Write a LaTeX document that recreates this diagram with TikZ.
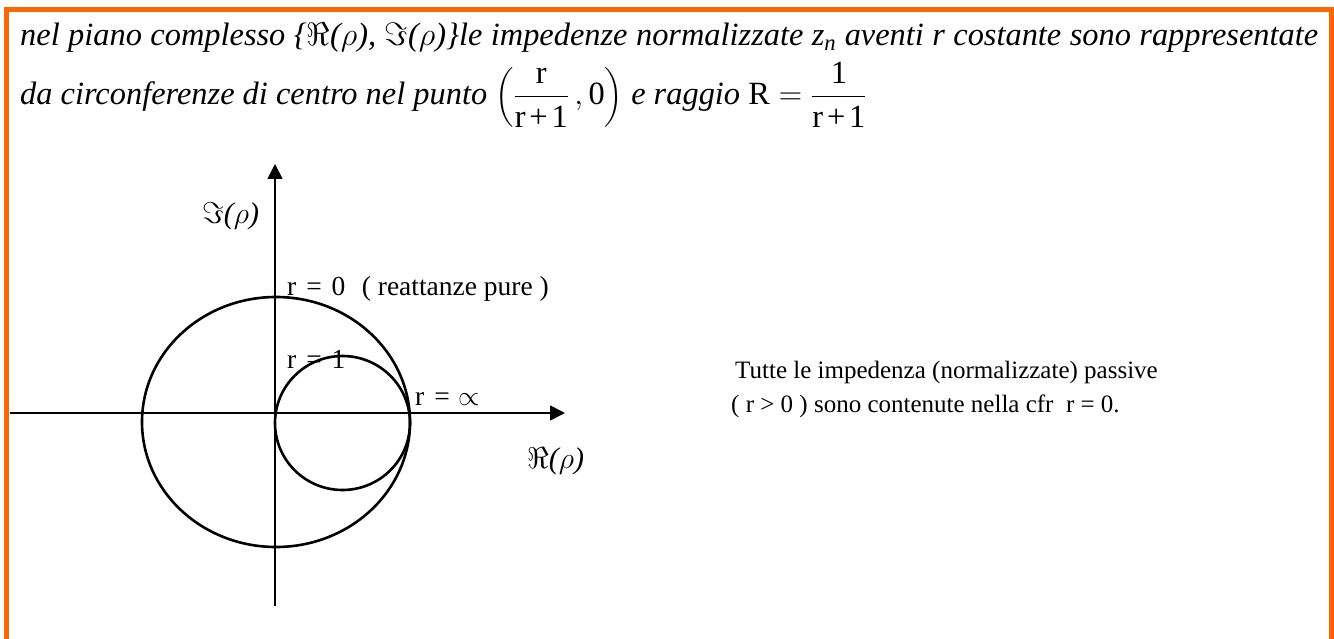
\RequirePackage{fix-cm}
\documentclass[tikz,border=0pt]{standalone}
\usepackage{amsmath}
\usepackage{fontspec}
\setmainfont{Liberation Serif}
\usetikzlibrary{arrows.meta,positioning}
\definecolor{frameorange}{RGB}{255,102,0}

\begin{document}
\begin{tikzpicture}[
    x=1pt, y=-1pt,
    txt/.style={inner sep=0pt, anchor=base west},
    titolo/.style={font=\fontsize{32.4}{38}\selectfont\itshape},
    asse/.style={font=\fontsize{30}{34}\selectfont\itshape},
    etich/.style={font=\fontsize{27.5}{32}\selectfont},
    nota/.style={font=\fontsize{25}{30}\selectfont},
    axis/.style={-{Triangle[length=15pt,width=15pt]}, line width=1.8pt},
    curve/.style={line width=2.6pt}
]
    \useasboundingbox (0,0) rectangle (1334,639);
    \draw[frameorange, line width=5pt] (6,650) -- (6,9.5) -- (1331.5,9.5) -- (1331.5,650);

    % testo in alto
    \node[txt, titolo] (riga1) at (20,46) {\makebox[1298pt][s]{nel piano complesso \{\(\Re\)(\(\rho\)), \(\Im\)(\(\rho\))\}le impedenze normalizzate z\textsubscript{n} aventi r costante sono rappresentate}};
    \node[txt, titolo] (riga2) at (20,105) {da circonferenze di centro nel punto \(\left(\dfrac{\textup{r}}{\textup{r\hspace{0.12em}+\hspace{0.12em}1}}\,,\textup{0}\right)\) e raggio \(\textup{R}=\dfrac{\textup{1}}{\textup{r\hspace{0.12em}+\hspace{0.12em}1}}\)};

    % assi
    \coordinate (xa) at (10,413);
    \coordinate (xb) at (565,413);
    \coordinate (ya) at (275,606);
    \coordinate (yb) at (275,164);
    \draw[axis] (xa) -- (xb);
    \draw[axis] (ya) -- (yb);

    % circonferenze
    \draw[curve] (276,422) ellipse [x radius=134, y radius=125];
    \draw[curve] (342.5,423) ellipse [x radius=67.5, y radius=67];

    % etichette
    \node[txt, asse] (im) at (202,224) {\(\Im\)(\(\rho\))};
    \node[txt, asse] (re) at (527,468) {\(\Re\)(\(\rho\))};
    \node[txt, etich] (r0) at (287,295) {r\hspace{0.36em}=\hspace{0.36em}0};
    \node[txt, etich, right=16pt of r0.base east, anchor=base west] (pure) {( reattanze pure )};
    \node[txt, etich] (r1) at (287,368) {r\hspace{0.36em}=\hspace{0.36em}1};
    \node[txt, etich] (rinf) at (415,405) {r\hspace{0.36em}=\hspace{0.3em}\(\propto\)};

    % testo a destra
    \node[txt, nota] (nota1) at (735,378) {Tutte le impedenza (normalizzate) passive};
    \node[txt, nota] (nota2) at (731,412) {( r > 0 ) sono contenute nella cfr\ \ r = 0.};
\end{tikzpicture}
\end{document}
